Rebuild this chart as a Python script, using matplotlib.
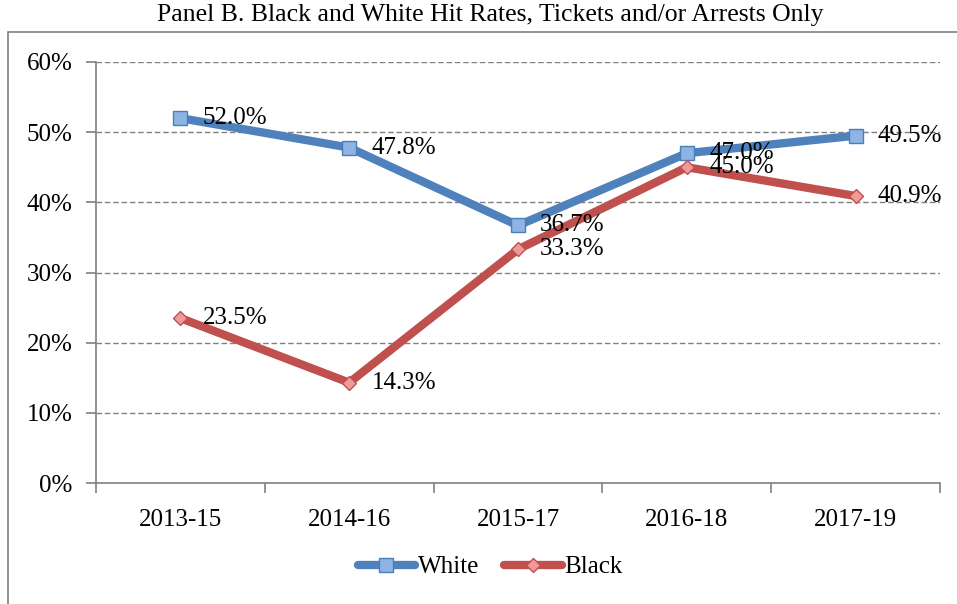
import matplotlib
matplotlib.use("Agg")
import matplotlib.pyplot as plt
from matplotlib.patches import Rectangle
from matplotlib.ticker import FuncFormatter

periods = ["2013-15", "2014-16", "2015-17", "2016-18", "2017-19"]
white_rates = [52.0, 47.8, 36.7, 47.0, 49.5]
black_rates = [23.5, 14.3, 33.3, 45.0, 40.9]

plt.rcParams["font.family"] = ["Liberation Serif", "DejaVu Serif"]

fig = plt.figure(figsize=(9.57, 6.04), dpi=100)
ax = fig.add_axes([96 / 957, 1 - 483 / 604, (940 - 96) / 957, (483 - 62) / 604])

# outer chart frame (runs off the right and bottom edges)
fig.patches.append(Rectangle((8 / 957, -0.1), 1.2, 0.1 + 1 - 32 / 604,
                             transform=fig.transFigure, fill=False,
                             edgecolor="#808080", lw=1.2))

x = list(range(len(periods)))
ax.plot(x, white_rates, color="#4F81BD", lw=6, marker="s", markersize=10,
        markerfacecolor="#8DB4E3", markeredgecolor="#4A7EBB", markeredgewidth=1,
        solid_capstyle="round", label="White", zorder=3)
ax.plot(x, black_rates, color="#C0504D", lw=6, marker="D", markersize=7,
        markerfacecolor="#EE9A98", markeredgecolor="#C0504D", markeredgewidth=1,
        solid_capstyle="round", label="Black", zorder=3)

for xi, v in zip(x, white_rates):
    ax.annotate(f"{v:.1f}%", (xi, v), xytext=(16, 0), textcoords="offset points",
                ha="left", va="center", fontsize=18, zorder=4)
for xi, v in zip(x, black_rates):
    ax.annotate(f"{v:.1f}%", (xi, v), xytext=(16, 0), textcoords="offset points",
                ha="left", va="center", fontsize=18, zorder=4)

ax.set_xlim(-0.5, 4.5)
ax.set_ylim(0, 60)
ax.set_yticks(range(0, 61, 10))
ax.yaxis.set_major_formatter(FuncFormatter(lambda v, p: f"{v:.0f}%"))
ax.set_xticks(x)
ax.set_xticklabels(periods)
ax.set_xticks([i - 0.5 for i in range(len(periods) + 1)], minor=True)
ax.tick_params(axis="x", which="major", length=0, pad=19, labelsize=18)
ax.tick_params(axis="x", which="minor", length=7, color="#808080", width=1.2)
ax.tick_params(axis="y", length=7, color="#808080", width=1.2, pad=10, labelsize=18)

ax.grid(axis="y", color="#808080", ls=(0, (4, 2)), lw=1)
ax.set_axisbelow(True)
for s in ["top", "right"]:
    ax.spines[s].set_visible(False)
for s in ["left", "bottom"]:
    ax.spines[s].set_color("#808080")
    ax.spines[s].set_linewidth(1.2)
    ax.spines[s].set_zorder(2)

fig.text(490 / 957, 1 - 15 / 604, "Panel B. Black and White Hit Rates, Tickets and/or Arrests Only",
         ha="center", va="center", fontsize=18.5)

fig.legend(loc="center", bbox_to_anchor=(490 / 957, 1 - 567 / 604), ncol=2, frameon=False,
           fontsize=18, handlelength=2.3, handletextpad=0.1, columnspacing=1.0)

fig.savefig("out.png", dpi=100)
